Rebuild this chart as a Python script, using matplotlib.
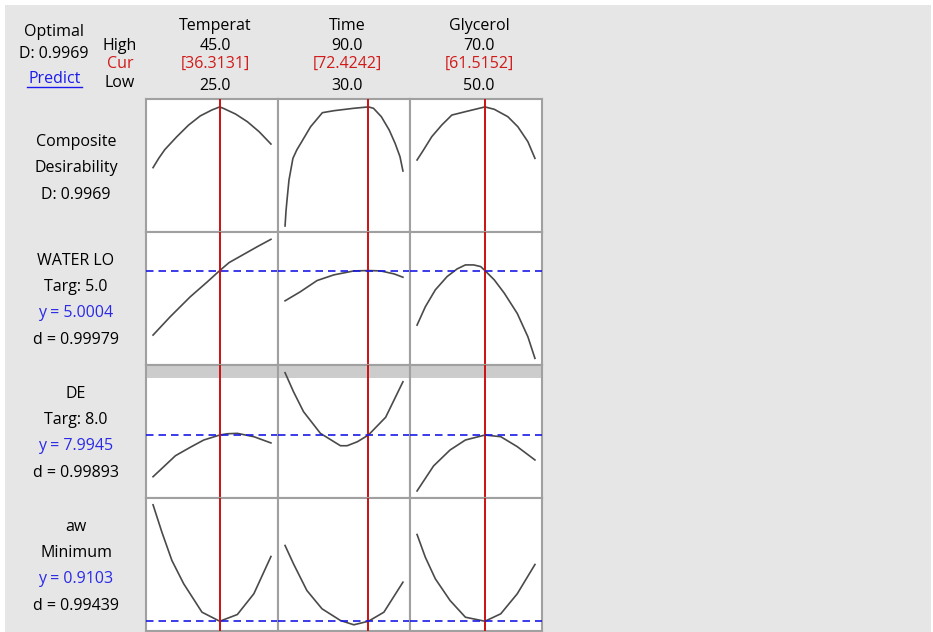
import matplotlib.pyplot as plt
from matplotlib.lines import Line2D
from matplotlib.patches import Rectangle

plt.rcParams['font.family'] = ['Open Sans', 'DejaVu Sans']

# factors: name, high, current, low
factor_names = ['Temperat', 'Time', 'Glycerol']
factor_high = [45.0, 90.0, 70.0]
factor_cur = [36.3131, 72.4242, 61.5152]
factor_low = [25.0, 30.0, 50.0]

# composite desirability vs each factor
comp_temp_x = [25, 26, 27, 29, 31, 33, 35, 36.3131, 37, 39, 41, 43, 45]
comp_temp_y = [0.513, 0.590, 0.657, 0.758, 0.851, 0.925, 0.973, 0.9969, 0.984, 0.940, 0.879, 0.799, 0.701]
comp_time_x = [30, 30.5, 31, 32, 34, 36, 38, 43, 49, 55, 65, 72.4242, 75, 79, 83, 86, 88.5, 90]
comp_time_y = [0.048, 0.170, 0.255, 0.414, 0.587, 0.655, 0.707, 0.839, 0.951, 0.967, 0.986, 0.9969, 0.986, 0.919, 0.813, 0.707, 0.600, 0.486]
comp_gly_x = [50, 51.1, 52.5, 54.2, 55.9, 58.2, 61.5152, 63.1, 65.4, 67.1, 68.8, 70]
comp_gly_y = [0.574, 0.654, 0.760, 0.853, 0.932, 0.959, 0.9969, 0.978, 0.919, 0.839, 0.720, 0.587]

# WATER LO
wl_temp_x = [25, 27.9, 31.3, 34.2, 36.3131, 37.9, 40.4, 42.7, 45]
wl_temp_y = [3.06, 3.61, 4.21, 4.66, 5.0004, 5.24, 5.49, 5.72, 5.94]
wl_time_x = [30, 37.7, 46.3, 54.8, 65.0, 72.4242, 78.6, 85.5, 90]
wl_time_y = [4.09, 4.36, 4.70, 4.87, 4.99, 5.0004, 4.99, 4.90, 4.80]
wl_gly_x = [50, 51.4, 53.1, 55.1, 56.8, 58.2, 59.6, 60.8, 61.5152, 63.1, 64.8, 67.0, 68.8, 70]
wl_gly_y = [3.36, 3.91, 4.42, 4.82, 5.05, 5.17, 5.17, 5.12, 5.0004, 4.72, 4.32, 3.71, 3.01, 2.36]

# DE
de_temp_x = [25, 28.8, 31.3, 33.6, 36.3131, 37.6, 39.3, 42.1, 45]
de_temp_y = [4.86, 6.44, 7.07, 7.62, 7.9945, 8.09, 8.12, 7.87, 7.40]
de_time_x = [30, 34.3, 39.4, 48.0, 58.2, 61.6, 66.8, 72.4242, 81.2, 90]
de_time_y = [12.68, 11.25, 9.75, 8.12, 7.19, 7.19, 7.49, 7.9945, 9.33, 12.00]
de_gly_x = [50, 52.8, 55.6, 58.2, 61.5152, 64.2, 67.0, 70]
de_gly_y = [3.79, 5.67, 6.87, 7.62, 7.9945, 7.87, 7.12, 6.12]

# aw
aw_temp_x = [25, 26.5, 28.2, 30.2, 33.3, 36.3131, 39.3, 42.1, 45]
aw_temp_y = [0.93657, 0.93039, 0.92400, 0.91875, 0.91234, 0.9103, 0.91182, 0.91650, 0.92490]
aw_time_x = [30, 34.3, 41.1, 48.8, 58.2, 65.0, 72.4242, 80.3, 90]
aw_time_y = [0.92739, 0.92325, 0.91724, 0.91311, 0.91047, 0.90950, 0.9103, 0.91234, 0.91911]
aw_gly_x = [50, 51.4, 53.1, 55.6, 58.2, 61.5152, 64.2, 67.0, 70]
aw_gly_y = [0.92987, 0.92475, 0.91987, 0.91498, 0.91121, 0.9103, 0.91198, 0.91650, 0.92310]

rows = [
    [(comp_temp_x, comp_temp_y), (comp_time_x, comp_time_y), (comp_gly_x, comp_gly_y)],
    [(wl_temp_x, wl_temp_y), (wl_time_x, wl_time_y), (wl_gly_x, wl_gly_y)],
    [(de_temp_x, de_temp_y), (de_time_x, de_time_y), (de_gly_x, de_gly_y)],
    [(aw_temp_x, aw_temp_y), (aw_time_x, aw_time_y), (aw_gly_x, aw_gly_y)],
]
row_ylim = [(0, 1.06), (2.16, 6.16), (3.26, 13.26), (0.9081, 0.9381)]
row_yline = [None, 5.0004, 7.9945, 0.9103]
de_band = (12.28, 13.26)

row_labels = [
    [('Composite', 'k'), ('Desirability', 'k'), ('D: 0.9969', 'k')],
    [('WATER LO', 'k'), ('Targ: 5.0', 'k'), ('y = 5.0004', '#2a2ae6'), ('d = 0.99979', 'k')],
    [('DE', 'k'), ('Targ: 8.0', 'k'), ('y = 7.9945', '#2a2ae6'), ('d = 0.99893', 'k')],
    [('aw', 'k'), ('Minimum', 'k'), ('y = 0.9103', '#2a2ae6'), ('d = 0.99439', 'k')],
]

W, H = 933, 632
fig = plt.figure(figsize=(W / 100, H / 100), dpi=100)
fig.patch.set_facecolor('white')
fig.patches.append(Rectangle((5 / W, 0), (W - 7) / W, (H - 5) / H, transform=fig.transFigure,
                             facecolor='#e6e6e6', edgecolor='none', zorder=-10))

def fx(px):
    return px / W

def fy(py):
    return 1 - (py + 2) / H

fs = 11.5
red = '#d11a1a'

# header texts
fig.text(fx(54), fy(30), 'Optimal', ha='center', va='center', fontsize=fs)
fig.text(fx(54), fy(52), 'D: 0.9969', ha='center', va='center', fontsize=fs)
fig.text(fx(55), fy(77), 'Predict', ha='center', va='center', fontsize=fs, color='#1a1aee')
fig.lines.append(Line2D([fx(27), fx(82)], [fy(85), fy(85)], transform=fig.transFigure,
                        color='#1a1aee', lw=1))
fig.text(fx(120), fy(44), 'High', ha='center', va='center', fontsize=fs)
fig.text(fx(120), fy(62), 'Cur', ha='center', va='center', fontsize=fs, color=red)
fig.text(fx(120), fy(81), 'Low', ha='center', va='center', fontsize=fs)

col_left = [146, 278, 410]
col_w = 132
row_top = [99, 232, 365, 498]
row_h = 133

def ax_rect(px_left, px_top, w, h):
    return [px_left / W, 1 - (px_top + h) / H, w / W, h / H]

for j, name in enumerate(factor_names):
    cx = col_left[j] + col_w / 2 + 3
    fig.text(fx(cx), fy(24), name, ha='center', va='center', fontsize=fs)
    fig.text(fx(cx), fy(44), f'{factor_high[j]:.1f}', ha='center', va='center', fontsize=fs)
    fig.text(fx(cx), fy(62), f'[{factor_cur[j]:.4f}]', ha='center', va='center', fontsize=fs, color=red)
    fig.text(fx(cx), fy(84), f'{factor_low[j]:.1f}', ha='center', va='center', fontsize=fs)

for i in range(4):
    for j in range(3):
        ax = fig.add_axes(ax_rect(col_left[j], row_top[i], col_w, row_h))
        lo, hi = factor_low[j], factor_high[j]
        m = (hi - lo) * 7 / 117
        ax.set_xlim(lo - m, hi + m)
        ax.set_ylim(*row_ylim[i])
        if i == 2:
            ax.axhspan(*de_band, color='#cccccc', lw=0, zorder=0)
        xs, ys = rows[i][j]
        ax.plot(xs, ys, color='#4a4a4a', lw=1.2, zorder=2)
        ax.axvline(factor_cur[j], color='#cc1111', lw=1.4, zorder=3)
        if row_yline[i] is not None:
            ax.axhline(row_yline[i], color='#1a1ae6', lw=1.2, ls=(0, (4.5, 3)), zorder=4)
        ax.set_xticks([])
        ax.set_yticks([])
        for s in ax.spines.values():
            s.set_color('#a0a0a0')
            s.set_linewidth(1.5)

    # row labels
    n = len(row_labels[i])
    if n == 3:
        ys_lab = [140, 166, 193]
    else:
        ys_lab = [27, 53, 79, 106]
        ys_lab = [row_top[i] + v for v in ys_lab]
    for (txt, c), yy in zip(row_labels[i], ys_lab):
        fig.text(fx(76), fy(yy), txt, ha='center', va='center', fontsize=fs, color=c)

fig.savefig('out.png', dpi=100, facecolor=fig.get_facecolor())
